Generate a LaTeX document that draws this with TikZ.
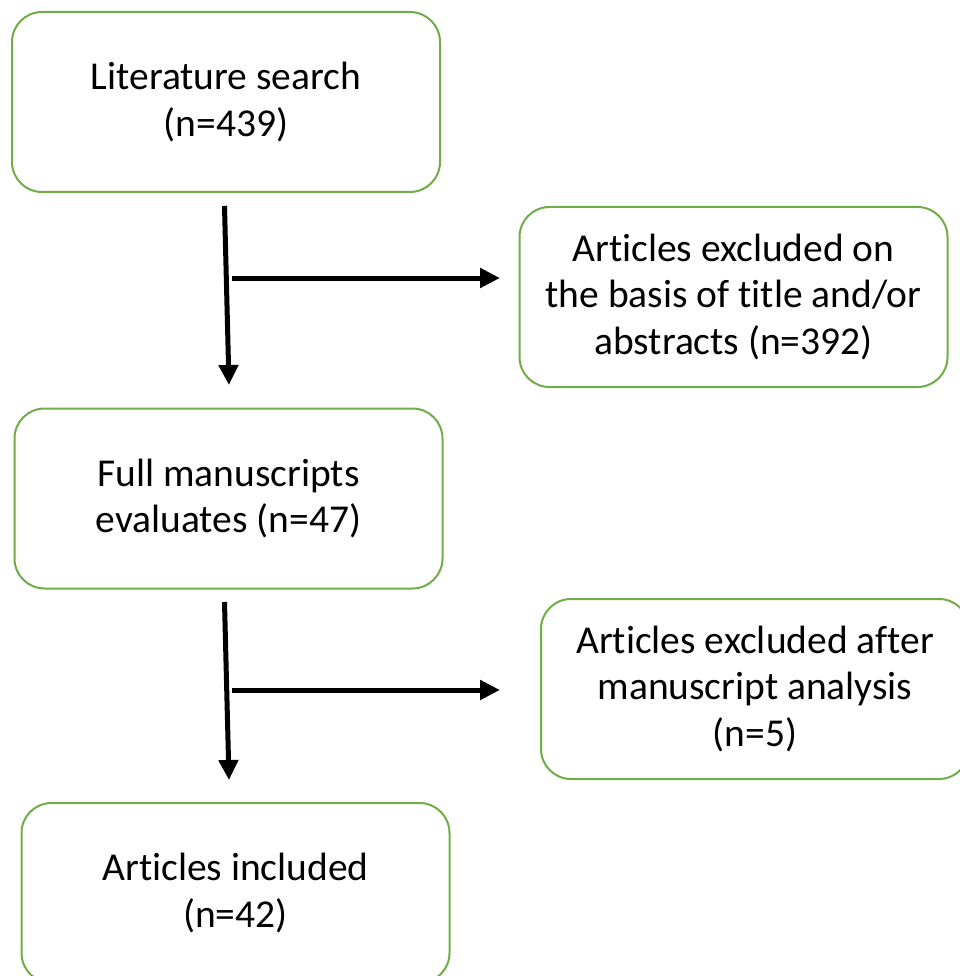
\documentclass[tikz,border=0pt]{standalone}
\usepackage{fontspec}
\setmainfont{Carlito}[Ligatures=NoCommon]
\usetikzlibrary{arrows.meta}
\definecolor{boxgreen}{RGB}{112,173,71}
\tikzset{
  flowbox/.style={draw=boxgreen, line width=2pt, rounded corners=30pt, fill=white,
    minimum width=428pt, minimum height=180pt, align=center, inner sep=0pt,
    font=\fontsize{39.5}{46.5}\selectfont},
  flowarrow/.style={line width=5pt, -{Triangle[length=20pt,width=19pt]}}
}
\begin{document}
\begin{tikzpicture}[x=1pt,y=-1pt]
\useasboundingbox (0,0) rectangle (959,976);
\node[flowbox] (lit) at (226,102) {Literature search\\(n=439)};
\node[flowbox] (ex1) at (733.5,297) {Articles excluded on\\the basis of title and/or\\abstracts (n=392)};
\node[flowbox] (full) at (228.5,498.5) {Full manuscripts\\evaluates (n=47)};
\node[flowbox] (ex2) at (755,689) {Articles excluded after\\manuscript analysis\\(n=5)};
\node[flowbox] (inc) at (235.5,893) {Articles included\\(n=42)};
\coordinate (a1s) at (224.5,206);
\coordinate (a1e) at (229,385);
\coordinate (a2s) at (232,278);
\coordinate (a2e) at (500,278);
\coordinate (a3s) at (224.5,602);
\coordinate (a3e) at (229,780);
\coordinate (a4s) at (232,690);
\coordinate (a4e) at (500,690);
\draw[flowarrow] (a1s) -- (a1e);
\draw[flowarrow] (a2s) -- (a2e);
\draw[flowarrow] (a3s) -- (a3e);
\draw[flowarrow] (a4s) -- (a4e);
\end{tikzpicture}
\end{document}
